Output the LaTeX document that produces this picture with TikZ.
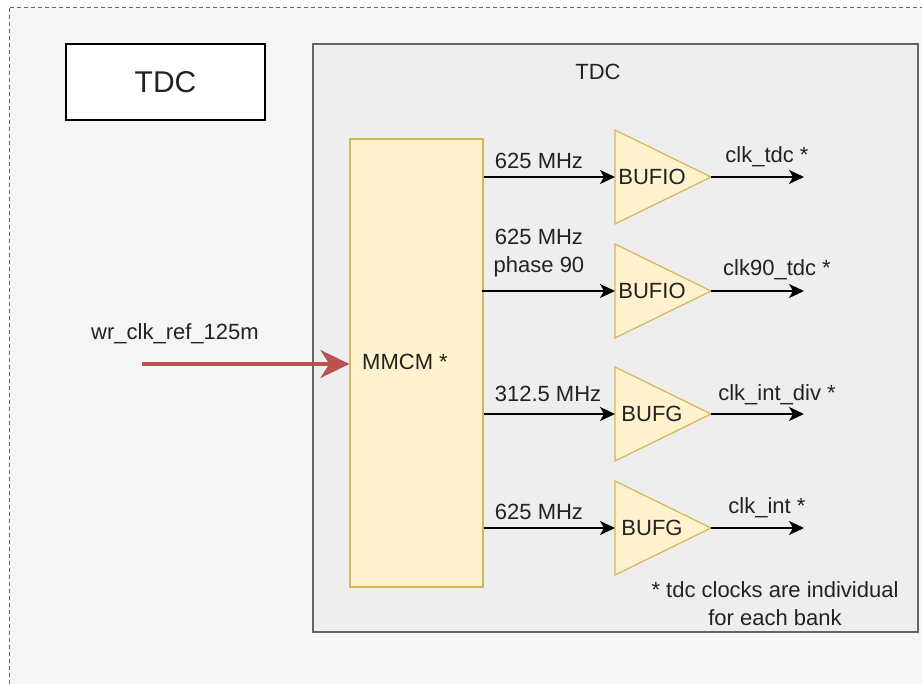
\documentclass[tikz,border=0pt]{standalone}
\usepackage{fontspec}
\setmainfont{Liberation Sans}
\usetikzlibrary{arrows.meta}
\definecolor{outerfill}{HTML}{F5F5F5}
\definecolor{outerline}{HTML}{666666}
\definecolor{innerfill}{HTML}{EEEEEE}
\definecolor{yfill}{HTML}{FFF2CC}
\definecolor{yline}{HTML}{D6B656}
\definecolor{redline}{HTML}{B85450}
\definecolor{txt}{HTML}{222222}
\tikzset{
  lbl/.style={text=txt, font=\fontsize{22}{28}\selectfont, inner sep=0pt, align=center},
  biglbl/.style={text=txt, font=\fontsize{30}{34}\selectfont, inner sep=0pt},
  sig/.style={draw=black, line width=1.3pt, -{Stealth[length=15pt,width=14pt,inset=4pt]}},
  ybox/.style={draw=yline, fill=yfill, line width=1.2pt},
}
\begin{document}
\begin{tikzpicture}[x=1pt,y=-1pt]
\useasboundingbox (0,0) rectangle (922,684);
% outer dashed container
\draw[outerline, fill=outerfill, dashed, dash pattern=on 4pt off 3pt, line width=1pt] (9,8) rectangle (940,700);
% left TDC box
\node[draw=black, fill=white, line width=1.3pt, minimum width=199pt, minimum height=76pt, inner sep=0pt] (tdcbox) at (165.5,82) {};
\node[biglbl] (tdclbl) at (165.5,82) {TDC};
% inner TDC container
\draw[outerline, fill=innerfill, line width=1.3pt] (313,44) rectangle (918,632);
\node[lbl] (tdctitle) at (598,72) {TDC};
% MMCM
\node[ybox, minimum width=133pt, minimum height=448pt, inner sep=0pt] (mmcm) at (416.5,363) {};
\node[lbl] (mmcmlbl) at (405,362) {MMCM *};
% input
\coordinate (inref) at (142,364);
\node[lbl] (reflbl) at (175,334) {wr\_clk\_ref\_125m};
\draw[redline, line width=3.2pt, -{Stealth[length=29pt,width=28pt,inset=9pt]}] (inref) -- (mmcm.west |- inref);
% buffers
\foreach \n/\cy/\t in {b1/177/BUFIO, b2/291/BUFIO, b3/414/BUFG, b4/528/BUFG}{
  \draw[ybox] (615,\cy-47) -- (711,\cy) -- (615,\cy+47) -- cycle;
  \coordinate (\n in) at (615,\cy);
  \coordinate (\n out) at (711,\cy);
  \node[lbl] (\n lbl) at (652,\cy) {\t};
}
% MMCM outputs
\draw[sig] (mmcm.east |- b1in) -- (b1in);
\draw[sig] ([xshift=-2pt]mmcm.east |- b2in) -- (b2in);
\draw[sig] (mmcm.east |- b3in) -- (b3in);
\draw[sig] (mmcm.east |- b4in) -- (b4in);
\node[lbl] (f1) at (539,161) {625 MHz};
\node[lbl] (f2) at (539,253) {625 MHz\\phase 90};
\node[lbl] (f3) at (548,394) {312.5 MHz};
\node[lbl] (f4) at (539,512) {625 MHz};
% outputs
\coordinate (o1) at (804,177);
\coordinate (o2) at (804,291);
\coordinate (o3) at (804,414);
\coordinate (o4) at (804,528);
\draw[sig] (b1out) -- (o1);
\draw[sig] (b2out) -- (o2);
\draw[sig] (b3out) -- (o3);
\draw[sig] (b4out) -- (o4);
\node[lbl] (c1) at (767,157) {clk\_tdc *};
\node[lbl] (c2) at (777,270) {clk90\_tdc *};
\node[lbl] (c3) at (777,395) {clk\_int\_div *};
\node[lbl] (c4) at (767,508) {clk\_int *};
% note
\node[lbl] (note) at (775,604) {* tdc clocks are individual\\for each bank};
\end{tikzpicture}
\end{document}
